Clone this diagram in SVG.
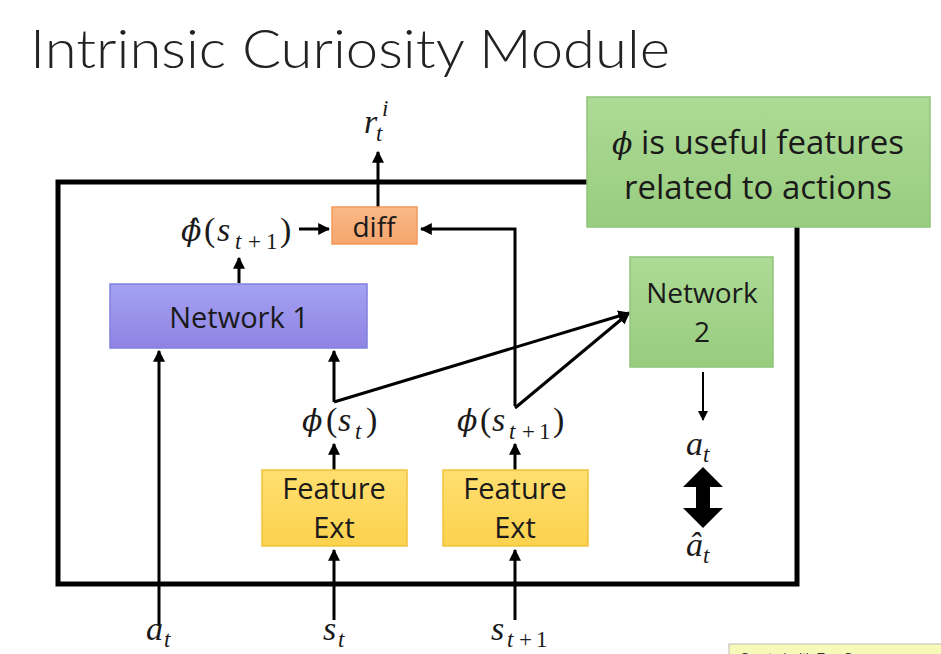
<svg xmlns="http://www.w3.org/2000/svg" width="941" height="654" viewBox="0 0 941 654">
<defs>
<marker id="ah" viewBox="0 0 10 10" refX="9" refY="5" markerWidth="4" markerHeight="4" orient="auto" markerUnits="strokeWidth">
<path d="M0,0 L10,5 L0,10 Z" fill="#000"/>
</marker>
<marker id="ah2" viewBox="0 0 10 10" refX="9" refY="5" markerWidth="5" markerHeight="5" orient="auto" markerUnits="strokeWidth">
<path d="M0,0 L10,5 L0,10 Z" fill="#000"/>
</marker>
<linearGradient id="gPurple" x1="0" y1="0" x2="0" y2="1"><stop offset="0" stop-color="#a3a3f2"/><stop offset="1" stop-color="#8f83e3"/></linearGradient>
<linearGradient id="gGreen" x1="0" y1="0" x2="0" y2="1"><stop offset="0" stop-color="#addb96"/><stop offset="1" stop-color="#98cc7e"/></linearGradient>
<linearGradient id="gYellow" x1="0" y1="0" x2="0" y2="1"><stop offset="0" stop-color="#ffdf70"/><stop offset="1" stop-color="#fcd24e"/></linearGradient>
<linearGradient id="gOrange" x1="0" y1="0" x2="0" y2="1"><stop offset="0" stop-color="#f9b987"/><stop offset="1" stop-color="#f6a56d"/></linearGradient>
</defs>
<style>
.lbl{font-family:"Open Sans","Liberation Sans",sans-serif;fill:#1a1a1a;text-anchor:middle}
.math{font-family:"Liberation Serif","DejaVu Serif",serif;fill:#1a1a1a;font-style:italic;font-size:34px}
.phi{font-family:"DejaVu Serif",serif;font-style:italic;font-size:30px}
.up{font-style:normal}
.sub{font-size:23px}
.conn{stroke:#000;stroke-width:3;fill:none}
.thin{stroke:#000;stroke-width:2;fill:none}
</style>
<rect width="941" height="654" fill="#fff"/>
<text x="30" y="68" font-family="Lato,'Open Sans',sans-serif" font-weight="300" font-size="54" fill="#222" textLength="640" lengthAdjust="spacingAndGlyphs">Intrinsic Curiosity Module</text>

<g id="frame">
<rect x="58" y="182" width="739" height="402" fill="none" stroke="#000" stroke-width="5"/>
</g>

<g id="connectors">
<line class="conn" x1="378" y1="207" x2="378" y2="152" marker-end="url(#ah)"/>
<line class="conn" x1="299" y1="229" x2="329" y2="229" marker-end="url(#ah)"/>
<polyline class="conn" points="515,406 515,229 421,229" marker-end="url(#ah)"/>
<line class="conn" x1="239" y1="283" x2="239" y2="258" marker-end="url(#ah)"/>
<line class="conn" x1="159" y1="626" x2="159" y2="351" marker-end="url(#ah)"/>
<line class="conn" x1="334" y1="402" x2="334" y2="351" marker-end="url(#ah)"/>
<line class="conn" x1="334" y1="402" x2="629" y2="313" marker-end="url(#ah)"/>
<line class="conn" x1="515" y1="408" x2="629" y2="313" marker-end="url(#ah)"/>
<line class="conn" x1="334" y1="470" x2="334" y2="444" marker-end="url(#ah)"/>
<line class="conn" x1="515" y1="470" x2="515" y2="444" marker-end="url(#ah)"/>
<line class="conn" x1="334" y1="620" x2="334" y2="550" marker-end="url(#ah)"/>
<line class="conn" x1="515" y1="620" x2="515" y2="550" marker-end="url(#ah)"/>
<line class="thin" x1="703" y1="372" x2="703" y2="420" marker-end="url(#ah2)"/>
<polygon points="703,467 723,487 710,487 710,508 723,508 703,528 683,508 696,508 696,487 683,487" fill="#000"/>
</g>

<g id="note">
<rect x="587" y="97" width="343" height="130" fill="url(#gGreen)" stroke="#8fc47a" stroke-width="1.5"/>
<text x="758" y="154" class="lbl" font-size="33"><tspan class="math phi" font-size="32">ϕ</tspan> is useful features</text>
<text x="758" y="199" class="lbl" font-size="33">related to actions</text>
</g>

<g id="diff">
<rect x="332" y="207" width="85" height="37" fill="url(#gOrange)" stroke="#f29a5c" stroke-width="1.5"/>
<text x="374" y="237" class="lbl" font-size="28">diff</text>
</g>

<g id="network1">
<rect x="110" y="284" width="257" height="64" fill="url(#gPurple)" stroke="#8080dd" stroke-width="1.5"/>
<text x="239" y="328" class="lbl" font-size="29">Network 1</text>
</g>

<g id="network2">
<rect x="630" y="257" width="143" height="110" fill="url(#gGreen)" stroke="#8fc47a" stroke-width="1.5"/>
<text x="702" y="303" class="lbl" font-size="28">Network</text>
<text x="702" y="342" class="lbl" font-size="28">2</text>
</g>

<g id="feat1">
<rect x="262" y="470" width="145" height="76" fill="url(#gYellow)" stroke="#f2c23c" stroke-width="1.5"/>
<text x="334" y="499" class="lbl" font-size="29">Feature</text>
<text x="334" y="538" class="lbl" font-size="29">Ext</text>
</g>

<g id="feat2">
<rect x="443" y="470" width="145" height="76" fill="url(#gYellow)" stroke="#f2c23c" stroke-width="1.5"/>
<text x="515" y="499" class="lbl" font-size="29">Feature</text>
<text x="515" y="538" class="lbl" font-size="29">Ext</text>
</g>

<g id="labels">
<text class="math" y="133"><tspan x="364">r</tspan><tspan class="sub" x="376" y="141">t</tspan><tspan class="sub" x="382" y="116">i</tspan></text>
<text class="math" y="241"><tspan class="phi" x="181">ϕ̂</tspan><tspan class="up" x="204">(</tspan><tspan x="217">s</tspan><tspan class="sub" x="235" y="249">t</tspan><tspan class="sub up" x="248">+</tspan><tspan class="sub up" x="266">1</tspan><tspan class="up" x="280" y="241">)</tspan></text>
<text class="math" y="431"><tspan class="phi" x="302">ϕ</tspan><tspan class="up" x="326">(</tspan><tspan x="338">s</tspan><tspan class="sub" x="355" y="439">t</tspan><tspan class="up" x="366" y="431">)</tspan></text>
<text class="math" y="431"><tspan class="phi" x="457">ϕ</tspan><tspan class="up" x="480">(</tspan><tspan x="492">s</tspan><tspan class="sub" x="509" y="439">t</tspan><tspan class="sub up" x="522">+</tspan><tspan class="sub up" x="539">1</tspan><tspan class="up" x="553" y="431">)</tspan></text>
<text class="math" y="455"><tspan x="686">a</tspan><tspan class="sub" x="703" y="462">t</tspan></text>
<text class="math" y="556"><tspan x="686">â</tspan><tspan class="sub" x="703" y="563">t</tspan></text>
<text class="math" y="640"><tspan x="146">a</tspan><tspan class="sub" x="164" y="647">t</tspan></text>
<text class="math" y="640"><tspan x="323">s</tspan><tspan class="sub" x="338" y="647">t</tspan></text>
<text class="math" y="640"><tspan x="491">s</tspan><tspan class="sub" x="507" y="647">t</tspan><tspan class="sub up" x="519">+</tspan><tspan class="sub up" x="536">1</tspan></text>
</g>

<g id="watermark">
<rect x="729" y="644" width="220" height="20" fill="#f6f9b8" stroke="#bbb" stroke-width="1"/>
<text x="740" y="662" font-family="'Liberation Sans',sans-serif" font-size="13" fill="#333">Created with EverCam</text>
</g>
</svg>
